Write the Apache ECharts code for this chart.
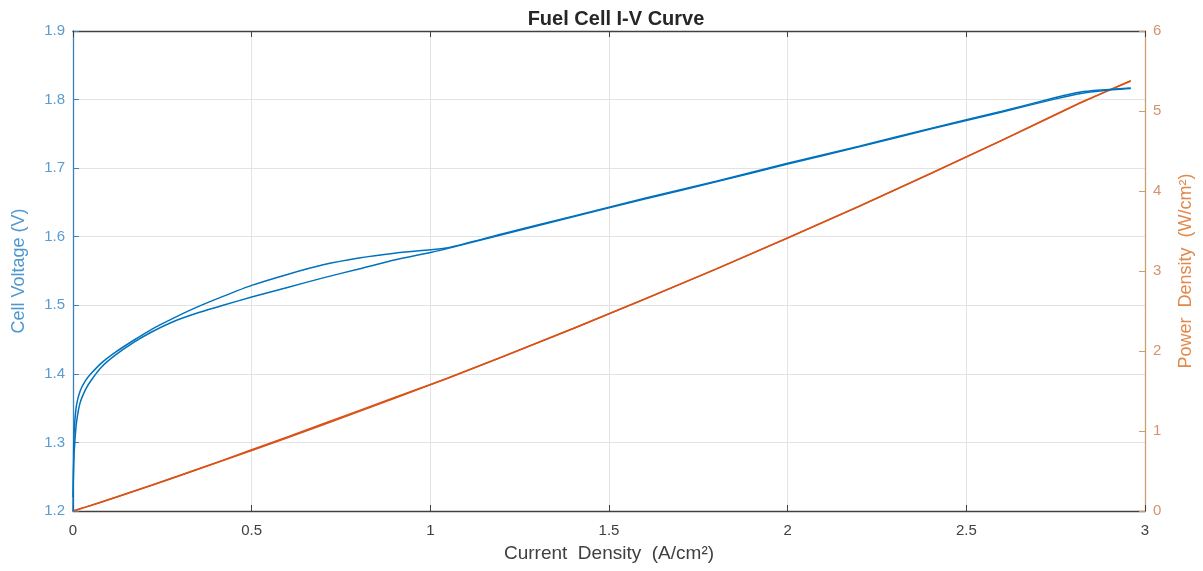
<!DOCTYPE html>
<html>
<head>
<meta charset="utf-8">
<script src="https://cdn.jsdelivr.net/npm/echarts@6/dist/echarts.min.js"></script>
<style>html,body{margin:0;padding:0;background:#fff}#c{width:1203px;height:571px}</style>
</head>
<body>
<div id="c"></div>
<script>
// Current density (A/cm^2), shared by both sweeps
const current = [0, 0.002, 0.005, 0.01, 0.02, 0.035, 0.05, 0.08, 0.12, 0.17, 0.22, 0.28, 0.35, 0.42, 0.5, 0.6, 0.7, 0.8, 0.9, 1.0, 1.05, 1.2, 1.4, 1.6, 1.8, 2.0, 2.2, 2.4, 2.6, 2.75, 2.82, 2.88, 2.96];
// Cell voltage (V), forward (upper) branch and return (lower) branch
const voltageFwd = [1.20, 1.30, 1.33, 1.355, 1.375, 1.39, 1.40, 1.416, 1.432, 1.449, 1.465, 1.481, 1.498, 1.513, 1.529, 1.545, 1.559, 1.569, 1.576, 1.581, 1.584, 1.604, 1.630, 1.656, 1.681, 1.707, 1.732, 1.758, 1.783, 1.803, 1.811, 1.814, 1.817];
const voltageRev = [1.22, 1.27, 1.30, 1.33, 1.358, 1.377, 1.39, 1.41, 1.428, 1.446, 1.461, 1.476, 1.489, 1.500, 1.512, 1.526, 1.540, 1.553, 1.566, 1.577, 1.583, 1.603, 1.629, 1.655, 1.680, 1.706, 1.731, 1.757, 1.782, 1.801, 1.809, 1.813, 1.816];
// Power density (W/cm^2)
const powerFwd = [0, 0.0026, 0.0067, 0.0136, 0.0275, 0.0487, 0.070, 0.113, 0.172, 0.246, 0.322, 0.415, 0.524, 0.636, 0.765, 0.927, 1.091, 1.255, 1.418, 1.581, 1.663, 1.925, 2.282, 2.650, 3.026, 3.414, 3.810, 4.219, 4.636, 4.958, 5.107, 5.224, 5.378];
const powerRev = [0, 0.0025, 0.0065, 0.0133, 0.0272, 0.0482, 0.0695, 0.113, 0.171, 0.246, 0.321, 0.413, 0.521, 0.630, 0.756, 0.916, 1.078, 1.242, 1.409, 1.577, 1.662, 1.924, 2.281, 2.648, 3.024, 3.412, 3.808, 4.217, 4.633, 4.953, 5.101, 5.221, 5.375];

const xTicks = {min: 0, max: 3, interval: 0.5};
const vTicks = {min: 1.2, max: 1.9, interval: 0.1};
const pTicks = {min: 0, max: 6, interval: 1};

const fwdPath = (ys) => current.map((x, i) => [x, ys[i]]);
const revPath = (ys) => current.map((x, i) => [x, ys[i]]).reverse();

const FONT = 'Liberation Sans, Arial, sans-serif';
const blue = '#0072BD', orange = '#D95319';

const chart = echarts.init(document.getElementById('c'), null, {renderer: 'canvas'});
chart.setOption({
  animation: false,
  backgroundColor: '#fff',
  title: {
    text: 'Fuel Cell I-V Curve', left: 611, top: 4, textAlign: 'center',
    textStyle: {fontFamily: FONT, fontSize: 20, fontWeight: 'bold', color: '#262626'}
  },
  grid: {left: 73, right: 55, top: 31, bottom: 60, containLabel: false},
  xAxis: [{
    type: 'value', position: 'bottom', min: xTicks.min, max: xTicks.max, interval: xTicks.interval,
    name: 'Current  Density  (A/cm²)', nameLocation: 'middle', nameGap: 33,
    nameTextStyle: {fontFamily: FONT, fontSize: 19, color: '#404040'},
    axisLine: {show: true, onZero: false, lineStyle: {color: '#404040', width: 1.3}},
    axisTick: {show: true, inside: true, length: 6, lineStyle: {color: '#404040'}},
    axisLabel: {fontFamily: FONT, fontSize: 15, color: '#404040', margin: 12},
    splitLine: {show: true, lineStyle: {color: '#e3e3e3', width: 1}}
  }, {
    type: 'value', position: 'top', min: xTicks.min, max: xTicks.max, interval: xTicks.interval,
    axisLine: {show: true, onZero: false, lineStyle: {color: '#404040', width: 1.3}},
    axisTick: {show: true, inside: true, length: 6, lineStyle: {color: '#404040'}},
    axisLabel: {show: false}, splitLine: {show: false}
  }],
  yAxis: [{
    type: 'value', position: 'left', min: vTicks.min, max: vTicks.max, interval: vTicks.interval,
    name: 'Cell Voltage (V)', nameLocation: 'middle', nameGap: 45, nameRotate: 90,
    nameTextStyle: {fontFamily: FONT, fontSize: 18, color: '#4f97cf'},
    axisLine: {show: true, onZero: false, lineStyle: {color: '#3f80bb', width: 1.3}},
    axisTick: {show: true, inside: true, length: 6, lineStyle: {color: '#3f80bb'}},
    axisLabel: {fontFamily: FONT, fontSize: 15, color: '#5a9bd0', margin: 8, formatter: v => v.toFixed(1)},
    splitLine: {show: true, lineStyle: {color: '#e3e3e3', width: 1}}
  }, {
    type: 'value', position: 'right', min: pTicks.min, max: pTicks.max, interval: pTicks.interval,
    name: 'Power  Density  (W/cm²)', nameLocation: 'middle', nameGap: 32, nameRotate: 90,
    nameTextStyle: {fontFamily: FONT, fontSize: 18, color: '#e0894c'},
    axisLine: {show: true, onZero: false, lineStyle: {color: '#cf9c72', width: 1.3}},
    axisTick: {show: true, inside: true, length: 6, lineStyle: {color: '#cf9c72'}},
    axisLabel: {fontFamily: FONT, fontSize: 15, color: '#d39370', margin: 8},
    splitLine: {show: false}
  }],
  series: [
    {type: 'line', name: 'V fwd', xAxisIndex: 0, yAxisIndex: 0, data: fwdPath(voltageFwd), showSymbol: false, smooth: 0.2, lineStyle: {color: blue, width: 1.5}, z: 3},
    {type: 'line', name: 'V rev', xAxisIndex: 0, yAxisIndex: 0, data: revPath(voltageRev), showSymbol: false, smooth: 0.2, lineStyle: {color: blue, width: 1.5}, z: 3},
    {type: 'line', name: 'P fwd', xAxisIndex: 0, yAxisIndex: 1, data: fwdPath(powerFwd), showSymbol: false, lineStyle: {color: orange, width: 1.5}, z: 2},
    {type: 'line', name: 'P rev', xAxisIndex: 0, yAxisIndex: 1, data: revPath(powerRev), showSymbol: false, lineStyle: {color: orange, width: 1.5}, z: 2}
  ]
});
</script>
</body>
</html>
